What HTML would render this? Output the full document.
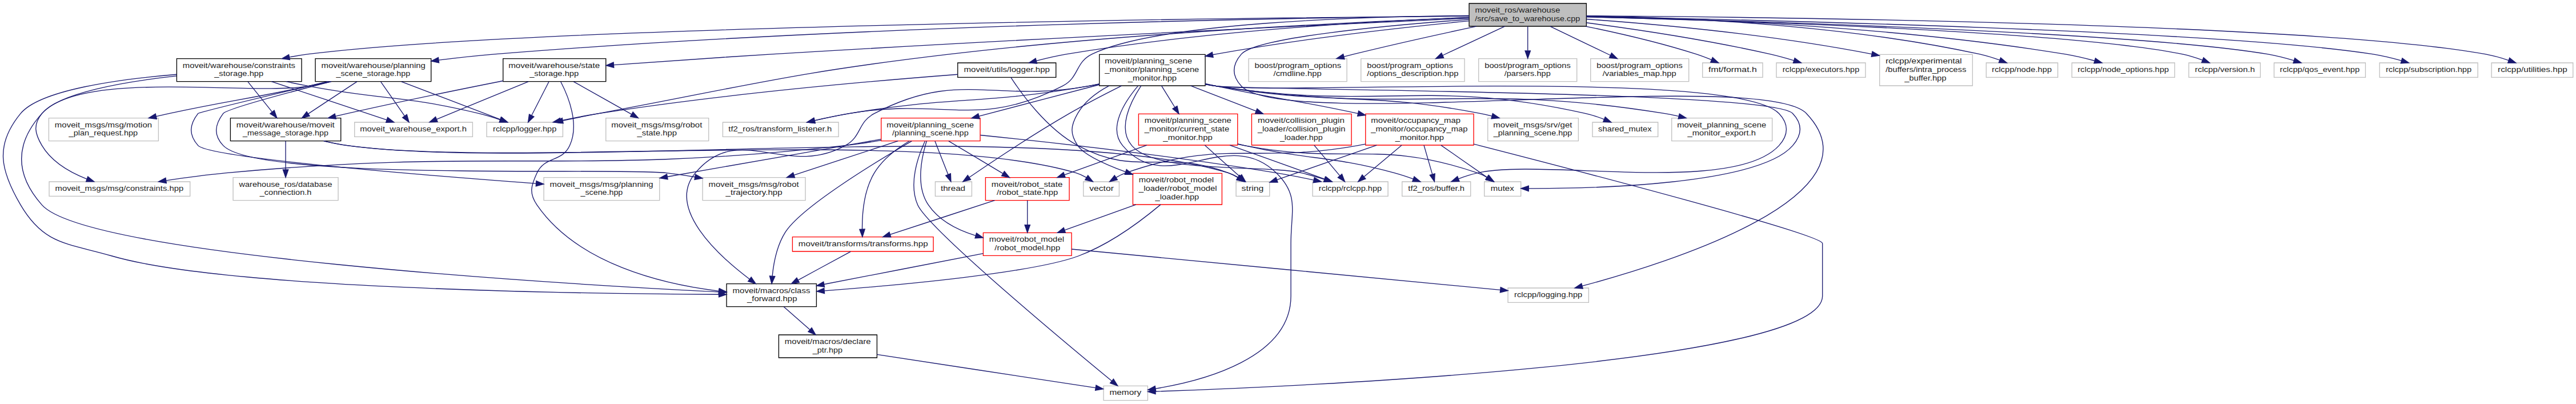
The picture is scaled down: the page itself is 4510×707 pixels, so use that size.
<!DOCTYPE html>
<html><head><meta charset="utf-8"><title>save_to_warehouse.cpp include graph</title><style>
html,body{margin:0;padding:0;background:#ffffff;overflow:hidden;}
svg{display:block;}
text{font-family:"Liberation Sans",sans-serif;font-size:9.675px;fill:#222222;}
</style></head><body>
<svg width="4510" height="707" viewBox="0 0 3382.5 530.25" preserveAspectRatio="none">
<rect x="0" y="0" width="3382.5" height="530.25" fill="#ffffff"/>
<g transform="translate(4 526)">
<polygon fill="#bfbfbf" stroke="black" points="1925.06,-491.5 1925.06,-521.5 2079.06,-521.5 2079.06,-491.5 1925.06,-491.5"/>
<text x="1932.91" y="-509.50" textLength="111.67" lengthAdjust="spacingAndGlyphs">moveit_ros/warehouse</text>
<text x="1932.61" y="-498.50" textLength="138.12" lengthAdjust="spacingAndGlyphs">/src/save_to_warehouse.cpp</text>
<polygon fill="white" stroke="black" points="410.06,-419 410.06,-449 562.06,-449 562.06,-419 410.06,-419"/>
<text x="417.91" y="-437.00" textLength="136.77" lengthAdjust="spacingAndGlyphs">moveit/warehouse/planning</text>
<text x="437.39" y="-426.00" textLength="97.29" lengthAdjust="spacingAndGlyphs">_scene_storage.hpp</text>
<path fill="none" stroke="#191970" d="M1924.77,-504.95C1717.51,-502.98 1132.19,-494.1 647.06,-455 622.74,-453.04 596.44,-450.12 572.29,-447.11"/>
<polygon fill="#191970" stroke="#191970" points="572.44,-443.6 562.08,-445.81 571.56,-450.54 572.44,-443.6"/>
<polygon fill="white" stroke="#bfbfbf" points="635.06,-346.5 635.06,-365.5 735.06,-365.5 735.06,-346.5 635.06,-346.5"/>
<text x="643.32" y="-353.50" textLength="83.41" lengthAdjust="spacingAndGlyphs">rclcpp/logger.hpp</text>
<path fill="none" stroke="#191970" d="M1924.89,-502.93C1787.58,-497.78 1491.95,-484.11 1244.06,-455 1037.24,-430.71 986.73,-415.37 782.06,-377 766.81,-374.14 750.27,-370.82 735.24,-367.71"/>
<polygon fill="#191970" stroke="#191970" points="735.61,-364.21 725.11,-365.6 734.18,-371.06 735.61,-364.21"/>
<polygon fill="white" stroke="#bfbfbf" points="945.06,-346.5 945.06,-365.5 1097.06,-365.5 1097.06,-346.5 945.06,-346.5"/>
<text x="952.43" y="-353.50" textLength="135.75" lengthAdjust="spacingAndGlyphs">tf2_ros/transform_listener.h</text>
<path fill="none" stroke="#191970" d="M1924.83,-505.47C1789.36,-504.3 1515.17,-496.67 1430.06,-455 1407.18,-443.8 1413.71,-424.65 1391.06,-413 1279.49,-355.6 1234.65,-398.63 1111.06,-377 1096.34,-374.42 1080.39,-371.07 1066.06,-367.84"/>
<polygon fill="#191970" stroke="#191970" points="1066.49,-364.35 1055.96,-365.53 1064.92,-371.17 1066.49,-364.35"/>
<polygon fill="white" stroke="black" points="228.06,-419 228.06,-449 392.06,-449 392.06,-419 228.06,-419"/>
<text x="235.91" y="-437.00" textLength="147.86" lengthAdjust="spacingAndGlyphs">moveit/warehouse/constraints</text>
<text x="277.38" y="-426.00" textLength="64.59" lengthAdjust="spacingAndGlyphs">_storage.hpp</text>
<path fill="none" stroke="#191970" d="M1924.68,-504.95C1646.98,-502.7 701.16,-492.39 401.06,-455 392.86,-453.98 384.32,-452.57 375.9,-450.97"/>
<polygon fill="#191970" stroke="#191970" points="376.58,-447.54 366.08,-449.01 375.21,-454.4 376.58,-447.54"/>
<polygon fill="white" stroke="black" points="656.56,-419 656.56,-449 791.56,-449 791.56,-419 656.56,-419"/>
<text x="663.66" y="-437.00" textLength="119.98" lengthAdjust="spacingAndGlyphs">moveit/warehouse/state</text>
<text x="691.38" y="-426.00" textLength="64.59" lengthAdjust="spacingAndGlyphs">_storage.hpp</text>
<path fill="none" stroke="#191970" d="M1925.01,-502.05C1758.41,-494.49 1352.2,-475.48 1012.06,-455 940.91,-450.72 859.93,-445.02 802,-440.8"/>
<polygon fill="#191970" stroke="#191970" points="802.05,-437.3 791.83,-440.06 801.54,-444.28 802.05,-437.3"/>
<polygon fill="white" stroke="black" points="1439.56,-413.5 1439.56,-454.5 1578.56,-454.5 1578.56,-413.5 1439.56,-413.5"/>
<text x="1446.66" y="-442.50" textLength="114.63" lengthAdjust="spacingAndGlyphs">moveit/planning_scene</text>
<text x="1446.66" y="-431.50" textLength="123.84" lengthAdjust="spacingAndGlyphs">_monitor/planning_scene</text>
<text x="1477.03" y="-420.50" textLength="64.02" lengthAdjust="spacingAndGlyphs">_monitor.hpp</text>
<path fill="none" stroke="#191970" d="M1924.78,-498.54C1842.26,-490.5 1707.83,-475.68 1593.06,-455 1591.58,-454.73 1590.09,-454.46 1588.59,-454.17"/>
<polygon fill="#191970" stroke="#191970" points="1589.09,-450.71 1578.6,-452.19 1587.73,-457.57 1589.09,-450.71"/>
<polygon fill="white" stroke="#bfbfbf" points="1976.06,-129 1976.06,-148 2082.06,-148 2082.06,-129 1976.06,-129"/>
<text x="1984.34" y="-136.00" textLength="89.37" lengthAdjust="spacingAndGlyphs">rclcpp/logging.hpp</text>
<path fill="none" stroke="#191970" d="M1924.86,-500.5C1820.58,-492.95 1645.41,-477.12 1626.06,-455 1613.77,-440.95 1613.18,-426.52 1626.06,-413 1682.99,-353.24 2311.12,-436.76 2368.06,-377 2470.42,-269.55 2187.02,-180.9 2073.63,-150.65"/>
<polygon fill="#191970" stroke="#191970" points="2074.41,-147.23 2063.84,-148.07 2072.62,-154 2074.41,-147.23"/>
<polygon fill="white" stroke="black" points="1253.56,-424.5 1253.56,-443.5 1382.56,-443.5 1382.56,-424.5 1253.56,-424.5"/>
<text x="1261.61" y="-431.50" textLength="112.87" lengthAdjust="spacingAndGlyphs">moveit/utils/logger.hpp</text>
<path fill="none" stroke="#191970" d="M1924.67,-503.12C1809.12,-498.64 1584.96,-486.41 1397.06,-455 1383.84,-452.79 1369.6,-449.48 1356.89,-446.18"/>
<polygon fill="#191970" stroke="#191970" points="1357.64,-442.76 1347.08,-443.57 1355.84,-449.53 1357.64,-442.76"/>
<polygon fill="white" stroke="#bfbfbf" points="1635.56,-419 1635.56,-449 1764.56,-449 1764.56,-419 1635.56,-419"/>
<text x="1643.41" y="-437.00" textLength="113.71" lengthAdjust="spacingAndGlyphs">boost/program_options</text>
<text x="1668.13" y="-426.00" textLength="63.12" lengthAdjust="spacingAndGlyphs">/cmdline.hpp</text>
<path fill="none" stroke="#191970" d="M1934.53,-491.39C1889.05,-481.69 1827.8,-468.21 1774.06,-455 1769.72,-453.94 1765.26,-452.81 1760.76,-451.65"/>
<polygon fill="#191970" stroke="#191970" points="1761.49,-448.22 1750.93,-449.08 1759.72,-454.99 1761.49,-448.22"/>
<polygon fill="white" stroke="#bfbfbf" points="1783.06,-419 1783.06,-449 1919.06,-449 1919.06,-419 1783.06,-419"/>
<text x="1790.91" y="-437.00" textLength="112.98" lengthAdjust="spacingAndGlyphs">boost/program_options</text>
<text x="1790.97" y="-426.00" textLength="120.14" lengthAdjust="spacingAndGlyphs">/options_description.hpp</text>
<path fill="none" stroke="#191970" d="M1971.86,-491.4C1948.51,-480.5 1915.98,-465.31 1890.56,-453.44"/>
<polygon fill="#191970" stroke="#191970" points="1891.74,-450.13 1881.2,-449.07 1888.78,-456.47 1891.74,-450.13"/>
<polygon fill="white" stroke="#bfbfbf" points="1937.56,-419 1937.56,-449 2066.56,-449 2066.56,-419 1937.56,-419"/>
<text x="1945.41" y="-437.00" textLength="112.98" lengthAdjust="spacingAndGlyphs">boost/program_options</text>
<text x="1971.28" y="-426.00" textLength="60.80" lengthAdjust="spacingAndGlyphs">/parsers.hpp</text>
<path fill="none" stroke="#191970" d="M2002.06,-491.23C2002.06,-482.16 2002.06,-470.16 2002.06,-459.58"/>
<polygon fill="#191970" stroke="#191970" points="2005.56,-459.25 2002.06,-449.25 1998.56,-459.25 2005.56,-459.25"/>
<polygon fill="white" stroke="#bfbfbf" points="2084.56,-419 2084.56,-449 2213.56,-449 2213.56,-419 2084.56,-419"/>
<text x="2092.41" y="-437.00" textLength="112.98" lengthAdjust="spacingAndGlyphs">boost/program_options</text>
<text x="2100.23" y="-426.00" textLength="96.87" lengthAdjust="spacingAndGlyphs">/variables_map.hpp</text>
<path fill="none" stroke="#191970" d="M2031.45,-491.4C2054.18,-480.5 2085.85,-465.31 2110.6,-453.44"/>
<polygon fill="#191970" stroke="#191970" points="2112.21,-456.55 2119.71,-449.07 2109.18,-450.24 2112.21,-456.55"/>
<polygon fill="white" stroke="#bfbfbf" points="2231.56,-424.5 2231.56,-443.5 2310.56,-443.5 2310.56,-424.5 2231.56,-424.5"/>
<text x="2239.25" y="-431.50" textLength="63.68" lengthAdjust="spacingAndGlyphs">fmt/format.h</text>
<path fill="none" stroke="#191970" d="M2078.1,-491.46C2121.12,-482.68 2175.64,-470.17 2223.06,-455 2229.76,-452.86 2236.83,-450.16 2243.42,-447.45"/>
<polygon fill="#191970" stroke="#191970" points="2244.8,-450.67 2252.64,-443.54 2242.07,-444.23 2244.8,-450.67"/>
<polygon fill="white" stroke="#bfbfbf" points="2328.56,-424.5 2328.56,-443.5 2445.56,-443.5 2445.56,-424.5 2328.56,-424.5"/>
<text x="2336.56" y="-431.50" textLength="100.94" lengthAdjust="spacingAndGlyphs">rclcpp/executors.hpp</text>
<path fill="none" stroke="#191970" d="M2079.06,-496.18C2143.81,-487.65 2238.57,-473.55 2320.06,-455 2330.35,-452.66 2341.39,-449.6 2351.47,-446.58"/>
<polygon fill="#191970" stroke="#191970" points="2352.64,-449.88 2361.18,-443.6 2350.59,-443.19 2352.64,-449.88"/>
<polygon fill="white" stroke="#bfbfbf" points="2464.06,-413.5 2464.06,-454.5 2586.06,-454.5 2586.06,-413.5 2464.06,-413.5"/>
<text x="2471.91" y="-442.50" textLength="100.20" lengthAdjust="spacingAndGlyphs">rclcpp/experimental</text>
<text x="2471.91" y="-431.50" textLength="106.00" lengthAdjust="spacingAndGlyphs">/buffers/intra_process</text>
<text x="2496.80" y="-420.50" textLength="55.00" lengthAdjust="spacingAndGlyphs">_buffer.hpp</text>
<path fill="none" stroke="#191970" d="M2079.2,-500.85C2167.71,-494.62 2317.22,-481.39 2453.92,-455.07"/>
<polygon fill="#191970" stroke="#191970" points="2454.59,-458.5 2463.74,-453.15 2453.25,-451.63 2454.59,-458.5"/>
<polygon fill="white" stroke="#bfbfbf" points="2604.06,-424.5 2604.06,-443.5 2698.06,-443.5 2698.06,-424.5 2604.06,-424.5"/>
<text x="2611.49" y="-431.50" textLength="78.58" lengthAdjust="spacingAndGlyphs">rclcpp/node.hpp</text>
<path fill="none" stroke="#191970" d="M2079.29,-505.24C2193.37,-503.44 2413.06,-494.55 2595.06,-455 2603.9,-453.08 2613.26,-450.13 2621.74,-447.07"/>
<polygon fill="#191970" stroke="#191970" points="2623.08,-450.31 2631.21,-443.5 2620.61,-443.76 2623.08,-450.31"/>
<polygon fill="white" stroke="#bfbfbf" points="2716.56,-424.5 2716.56,-443.5 2851.56,-443.5 2851.56,-424.5 2716.56,-424.5"/>
<text x="2724.10" y="-431.50" textLength="119.87" lengthAdjust="spacingAndGlyphs">rclcpp/node_options.hpp</text>
<path fill="none" stroke="#191970" d="M2079.27,-504.57C2209.54,-501.97 2480.93,-492.15 2707.06,-455 2719.94,-452.88 2733.81,-449.6 2746.18,-446.31"/>
<polygon fill="#191970" stroke="#191970" points="2747.45,-449.59 2756.16,-443.56 2745.59,-442.84 2747.45,-449.59"/>
<polygon fill="white" stroke="#bfbfbf" points="2870.06,-424.5 2870.06,-443.5 2964.06,-443.5 2964.06,-424.5 2870.06,-424.5"/>
<text x="2877.99" y="-431.50" textLength="78.92" lengthAdjust="spacingAndGlyphs">rclcpp/version.h</text>
<path fill="none" stroke="#191970" d="M2079.17,-503.77C2261.07,-499.23 2712.75,-485.2 2861.06,-455 2870,-453.18 2879.44,-450.23 2887.98,-447.15"/>
<polygon fill="#191970" stroke="#191970" points="2889.39,-450.36 2897.49,-443.53 2886.9,-443.82 2889.39,-450.36"/>
<polygon fill="white" stroke="#bfbfbf" points="2982.06,-424.5 2982.06,-443.5 3102.06,-443.5 3102.06,-424.5 2982.06,-424.5"/>
<text x="2989.72" y="-431.50" textLength="104.64" lengthAdjust="spacingAndGlyphs">rclcpp/qos_event.hpp</text>
<path fill="none" stroke="#191970" d="M2079.09,-503.78C2277.34,-498.99 2801.61,-483.91 2973.06,-455 2984.64,-453.05 2997.04,-449.82 3008.08,-446.53"/>
<polygon fill="#191970" stroke="#191970" points="3009.27,-449.83 3017.79,-443.52 3007.2,-443.14 3009.27,-449.83"/>
<polygon fill="white" stroke="#bfbfbf" points="3120.56,-424.5 3120.56,-443.5 3249.56,-443.5 3249.56,-424.5 3120.56,-424.5"/>
<text x="3128.68" y="-431.50" textLength="112.69" lengthAdjust="spacingAndGlyphs">rclcpp/subscription.hpp</text>
<path fill="none" stroke="#191970" d="M2079.18,-504.18C2296.61,-500.11 2911.7,-486.1 3111.06,-455 3123.69,-453.03 3137.27,-449.72 3149.3,-446.35"/>
<polygon fill="#191970" stroke="#191970" points="3150.36,-449.69 3158.99,-443.54 3148.41,-442.97 3150.36,-449.69"/>
<polygon fill="white" stroke="#bfbfbf" points="3267.56,-424.5 3267.56,-443.5 3374.56,-443.5 3374.56,-424.5 3267.56,-424.5"/>
<text x="3275.79" y="-431.50" textLength="91.32" lengthAdjust="spacingAndGlyphs">rclcpp/utilities.hpp</text>
<path fill="none" stroke="#191970" d="M2079.23,-505.14C2316.14,-503.6 3030.72,-495.63 3259.06,-455 3269.3,-453.18 3280.2,-450.08 3289.95,-446.86"/>
<polygon fill="#191970" stroke="#191970" points="3291.31,-450.09 3299.62,-443.51 3289.02,-443.48 3291.31,-450.09"/>
<polygon fill="white" stroke="black" points="298.56,-341 298.56,-371 443.56,-371 443.56,-341 298.56,-341"/>
<text x="306.41" y="-359.00" textLength="128.98" lengthAdjust="spacingAndGlyphs">moveit/warehouse/moveit</text>
<text x="314.79" y="-348.00" textLength="112.48" lengthAdjust="spacingAndGlyphs">_message_storage.hpp</text>
<path fill="none" stroke="#191970" d="M464.7,-418.88C446.7,-406.99 420.77,-389.85 400.75,-376.63"/>
<polygon fill="#191970" stroke="#191970" points="402.58,-373.63 392.3,-371.04 398.72,-379.47 402.58,-373.63"/>
<polygon fill="white" stroke="#bfbfbf" points="710.06,-263 710.06,-293 862.06,-293 862.06,-263 710.06,-263"/>
<text x="717.91" y="-281.00" textLength="135.85" lengthAdjust="spacingAndGlyphs">moveit_msgs/msg/planning</text>
<text x="758.35" y="-270.00" textLength="55.39" lengthAdjust="spacingAndGlyphs">_scene.hpp</text>
<path fill="none" stroke="#191970" d="M426.38,-418.94C358.68,-402.92 257.41,-378.72 256.06,-377 244.52,-362.32 243.57,-348.88 256.06,-335 270.69,-318.73 553.22,-295.92 699.64,-285.12"/>
<polygon fill="#191970" stroke="#191970" points="700.22,-288.59 709.94,-284.37 699.71,-281.61 700.22,-288.59"/>
<polygon fill="white" stroke="black" points="950.06,-123.5 950.06,-153.5 1068.06,-153.5 1068.06,-123.5 950.06,-123.5"/>
<text x="957.91" y="-141.50" textLength="101.96" lengthAdjust="spacingAndGlyphs">moveit/macros/class</text>
<text x="976.96" y="-130.50" textLength="65.69" lengthAdjust="spacingAndGlyphs">_forward.hpp</text>
<path fill="none" stroke="#191970" d="M430.94,-418.95C421.04,-416.73 410.77,-414.64 401.06,-413 323.95,-400.02 103.44,-435.05 51.06,-377 15.33,-337.41 15.71,-296.94 51.06,-257 109.95,-190.44 729.26,-153.5 939.6,-142.8"/>
<polygon fill="#191970" stroke="#191970" points="940.09,-146.28 949.9,-142.28 939.74,-139.29 940.09,-146.28"/>
<polygon fill="white" stroke="#bfbfbf" points="60.06,-341 60.06,-371 204.06,-371 204.06,-341 60.06,-341"/>
<text x="67.91" y="-359.00" textLength="127.67" lengthAdjust="spacingAndGlyphs">moveit_msgs/msg/motion</text>
<text x="86.41" y="-348.00" textLength="90.52" lengthAdjust="spacingAndGlyphs">_plan_request.hpp</text>
<path fill="none" stroke="#191970" d="M427.59,-418.95C418.71,-416.9 409.65,-414.86 401.06,-413 320.03,-395.5 299.1,-394.39 218.06,-377 212.62,-375.83 207,-374.6 201.36,-373.33"/>
<polygon fill="#191970" stroke="#191970" points="201.74,-369.83 191.21,-371.04 200.19,-376.66 201.74,-369.83"/>
<path fill="none" stroke="#191970" d="M523.02,-418.88C560.42,-404.6 617.64,-382.75 653.12,-369.2"/>
<polygon fill="#191970" stroke="#191970" points="654.43,-372.44 662.52,-365.61 651.93,-365.9 654.43,-372.44"/>
<polygon fill="white" stroke="#bfbfbf" points="918.56,-263 918.56,-293 1053.56,-293 1053.56,-263 918.56,-263"/>
<text x="926.41" y="-281.00" textLength="118.52" lengthAdjust="spacingAndGlyphs">moveit_msgs/msg/robot</text>
<text x="948.88" y="-270.00" textLength="74.38" lengthAdjust="spacingAndGlyphs">_trajectory.hpp</text>
<path fill="none" stroke="#191970" d="M430.49,-418.95C373.79,-404.36 293.47,-382.84 289.06,-377 277.81,-362.11 276.27,-348.6 289.06,-335 333.43,-287.79 806.71,-306.56 871.06,-299 883.21,-297.57 896.02,-295.71 908.51,-293.69"/>
<polygon fill="#191970" stroke="#191970" points="909.14,-297.13 918.44,-292.04 908,-290.22 909.14,-297.13"/>
<polygon fill="white" stroke="#bfbfbf" points="461.56,-346.5 461.56,-365.5 616.56,-365.5 616.56,-346.5 461.56,-346.5"/>
<text x="468.67" y="-353.50" textLength="140.07" lengthAdjust="spacingAndGlyphs">moveit_warehouse_export.h</text>
<path fill="none" stroke="#191970" d="M496.03,-418.7C504.89,-405.99 517.87,-387.37 527.26,-373.92"/>
<polygon fill="#191970" stroke="#191970" points="530.24,-375.77 533.08,-365.56 524.49,-371.76 530.24,-375.77"/>
<polygon fill="white" stroke="#bfbfbf" points="302.06,-263 302.06,-293 440.06,-293 440.06,-263 302.06,-263"/>
<text x="309.91" y="-281.00" textLength="122.34" lengthAdjust="spacingAndGlyphs">warehouse_ros/database</text>
<text x="336.99" y="-270.00" textLength="68.11" lengthAdjust="spacingAndGlyphs">_connection.h</text>
<path fill="none" stroke="#191970" d="M371.06,-340.7C371.06,-330.2 371.06,-315.66 371.06,-303.33"/>
<polygon fill="#191970" stroke="#191970" points="374.56,-303.23 371.06,-293.23 367.56,-303.23 374.56,-303.23"/>
<polygon fill="white" stroke="#bfbfbf" points="1418.56,-268.5 1418.56,-287.5 1465.56,-287.5 1465.56,-268.5 1418.56,-268.5"/>
<text x="1426.45" y="-275.50" textLength="31.97" lengthAdjust="spacingAndGlyphs">vector</text>
<path fill="none" stroke="#191970" d="M421.3,-340.91C431.41,-338.55 442.02,-336.41 452.06,-335 662.8,-305.34 1205.2,-360.11 1409.06,-299 1413.66,-297.62 1418.27,-295.45 1422.52,-293.03"/>
<polygon fill="#191970" stroke="#191970" points="1424.56,-295.88 1431.13,-287.57 1420.81,-289.97 1424.56,-295.88"/>
<polygon fill="white" stroke="#bfbfbf" points="1619.06,-268.5 1619.06,-287.5 1663.06,-287.5 1663.06,-268.5 1619.06,-268.5"/>
<text x="1626.17" y="-275.50" textLength="29.11" lengthAdjust="spacingAndGlyphs">string</text>
<path fill="none" stroke="#191970" d="M420.86,-340.96C431.1,-338.56 441.87,-336.4 452.06,-335 706.9,-299.97 1362.92,-373.75 1609.06,-299 1613.43,-297.67 1617.79,-295.58 1621.83,-293.25"/>
<polygon fill="#191970" stroke="#191970" points="1624.04,-295.98 1630.51,-287.59 1620.22,-290.12 1624.04,-295.98"/>
<polygon fill="white" stroke="black" points="1018.56,-56.5 1018.56,-86.5 1147.56,-86.5 1147.56,-56.5 1018.56,-56.5"/>
<text x="1026.41" y="-74.50" textLength="113.03" lengthAdjust="spacingAndGlyphs">moveit/macros/declare</text>
<text x="1063.09" y="-63.50" textLength="39.14" lengthAdjust="spacingAndGlyphs">_ptr.hpp</text>
<path fill="none" stroke="#191970" d="M1025.11,-123.4C1035.1,-114.62 1048.13,-103.18 1059.3,-93.37"/>
<polygon fill="#191970" stroke="#191970" points="1061.83,-95.81 1067.03,-86.58 1057.21,-90.55 1061.83,-95.81"/>
<polygon fill="white" stroke="#bfbfbf" points="1445.06,-0.5 1445.06,-19.5 1503.06,-19.5 1503.06,-0.5 1445.06,-0.5"/>
<text x="1452.80" y="-7.50" textLength="41.80" lengthAdjust="spacingAndGlyphs">memory</text>
<path fill="none" stroke="#191970" d="M1147.62,-60.67C1229.15,-48.27 1366.92,-27.3 1434.4,-17.03"/>
<polygon fill="#191970" stroke="#191970" points="1435.25,-20.45 1444.61,-15.48 1434.19,-13.53 1435.25,-20.45"/>
<path fill="none" stroke="#191970" d="M321.53,-418.7C330.48,-407.56 343.06,-391.88 353.3,-379.12"/>
<polygon fill="#191970" stroke="#191970" points="356.1,-381.22 359.63,-371.23 350.65,-376.84 356.1,-381.22"/>
<path fill="none" stroke="#191970" d="M228.01,-428.33C152.56,-422.12 48.64,-408.05 23.06,-377 -10.85,-335.83 -3.94,-303 23.06,-257 53.98,-204.32 84.42,-207.1 143.06,-190 291.98,-146.58 761.99,-140.34 939.9,-139.56"/>
<polygon fill="#191970" stroke="#191970" points="939.94,-143.06 949.93,-139.52 939.91,-136.06 939.94,-143.06"/>
<path fill="none" stroke="#191970" d="M371.64,-418.97C381.46,-416.87 391.52,-414.81 401.06,-413 500.12,-394.17 527.13,-401.02 625.06,-377 634.12,-374.78 643.78,-371.82 652.64,-368.87"/>
<polygon fill="#191970" stroke="#191970" points="653.91,-372.14 662.23,-365.58 651.64,-365.52 653.91,-372.14"/>
<path fill="none" stroke="#191970" d="M352.33,-418.97C395.9,-404.51 463.07,-382.22 503.86,-368.68"/>
<polygon fill="#191970" stroke="#191970" points="504.99,-371.99 513.38,-365.52 502.79,-365.35 504.99,-371.99"/>
<polygon fill="white" stroke="#bfbfbf" points="60.56,-268.5 60.56,-287.5 245.56,-287.5 245.56,-268.5 60.56,-268.5"/>
<text x="68.38" y="-275.50" textLength="168.59" lengthAdjust="spacingAndGlyphs">moveit_msgs/msg/constraints.hpp</text>
<path fill="none" stroke="#191970" d="M227.75,-426.29C160.49,-418.9 73.05,-404.25 51.06,-377 39.33,-362.47 41.55,-351.06 51.06,-335 63.87,-313.34 88.37,-299.5 110.14,-291"/>
<polygon fill="#191970" stroke="#191970" points="111.38,-294.27 119.58,-287.57 108.99,-287.7 111.38,-294.27"/>
<path fill="none" stroke="#191970" d="M656.55,-419.86C601.42,-408.95 521.53,-392.72 452.06,-377 447.06,-375.87 441.9,-374.67 436.72,-373.44"/>
<polygon fill="#191970" stroke="#191970" points="437.3,-369.98 426.76,-371.06 435.67,-376.79 437.3,-369.98"/>
<path fill="none" stroke="#191970" d="M732.31,-418.72C742.52,-399.04 757.06,-362.85 744.06,-335 733.51,-312.42 711.6,-321.58 701.06,-299 693.16,-282.09 690.48,-272.38 701.06,-257 754.5,-179.32 866.72,-152.96 939.93,-144.03"/>
<polygon fill="#191970" stroke="#191970" points="940.45,-147.5 949.99,-142.89 939.66,-140.54 940.45,-147.5"/>
<path fill="none" stroke="#191970" d="M716.72,-418.7C710.32,-406.23 701.01,-388.09 694.14,-374.7"/>
<polygon fill="#191970" stroke="#191970" points="697.13,-372.86 689.45,-365.56 690.9,-376.06 697.13,-372.86"/>
<path fill="none" stroke="#191970" d="M689.69,-418.88C655.22,-404.72 602.64,-383.12 569.59,-369.54"/>
<polygon fill="#191970" stroke="#191970" points="570.59,-366.17 560.01,-365.61 567.93,-372.64 570.59,-366.17"/>
<polygon fill="white" stroke="#bfbfbf" points="791.56,-341 791.56,-371 926.56,-371 926.56,-341 791.56,-341"/>
<text x="798.66" y="-359.00" textLength="119.36" lengthAdjust="spacingAndGlyphs">moveit_msgs/msg/robot</text>
<text x="832.55" y="-348.00" textLength="52.25" lengthAdjust="spacingAndGlyphs">_state.hpp</text>
<path fill="none" stroke="#191970" d="M749.13,-418.88C770.54,-406.83 801.52,-389.39 825.14,-376.1"/>
<polygon fill="#191970" stroke="#191970" points="827.12,-379 834.11,-371.04 823.68,-372.9 827.12,-379"/>
<path fill="none" stroke="#191970" d="M1439.5,-415.84C1434.63,-414.82 1429.78,-413.86 1425.06,-413 1301.19,-390.39 1255.66,-435.3 1144.06,-377 1121.74,-365.34 1128.05,-347.25 1106.06,-335 1028.29,-291.7 966.06,-367.36 909.06,-299 870.68,-252.97 938.58,-191.05 980.21,-159.62"/>
<polygon fill="#191970" stroke="#191970" points="982.43,-162.33 988.39,-153.57 978.27,-156.7 982.43,-162.33"/>
<path fill="none" stroke="#191970" d="M1490.42,-413.43C1472.47,-392.18 1450.66,-358.16 1470.06,-335 1528.61,-265.09 1606.73,-362.63 1672.06,-299 1702.12,-269.71 1691.06,-248.47 1691.06,-206.5 1691.06,-206.5 1691.06,-206.5 1691.06,-137.5 1691.06,-56.12 1575.75,-26.17 1513.24,-15.91"/>
<polygon fill="#191970" stroke="#191970" points="1513.74,-12.44 1503.32,-14.37 1512.67,-19.36 1513.74,-12.44"/>
<path fill="none" stroke="#191970" d="M1439.52,-415.77C1434.64,-414.77 1429.78,-413.83 1425.06,-413 1286.71,-388.69 1249.59,-400.27 1111.06,-377 1096.19,-374.5 1080.09,-371.14 1065.67,-367.88"/>
<polygon fill="#191970" stroke="#191970" points="1066.04,-364.37 1055.51,-365.54 1064.47,-371.2 1066.04,-364.37"/>
<polygon fill="white" stroke="#bfbfbf" points="1719.56,-268.5 1719.56,-287.5 1818.56,-287.5 1818.56,-268.5 1719.56,-268.5"/>
<text x="1727.61" y="-275.50" textLength="82.84" lengthAdjust="spacingAndGlyphs">rclcpp/rclcpp.hpp</text>
<path fill="none" stroke="#191970" d="M1494.35,-413.45C1480.05,-391.89 1463.06,-357.3 1482.06,-335 1514.6,-296.78 1656.2,-310.52 1705.06,-299 1714.9,-296.68 1725.42,-293.63 1735.04,-290.62"/>
<polygon fill="#191970" stroke="#191970" points="1736.22,-293.92 1744.67,-287.52 1734.07,-287.25 1736.22,-293.92"/>
<polygon fill="white" stroke="#bfbfbf" points="1837.06,-268.5 1837.06,-287.5 1927.06,-287.5 1927.06,-268.5 1837.06,-268.5"/>
<text x="1844.95" y="-275.50" textLength="74.17" lengthAdjust="spacingAndGlyphs">tf2_ros/buffer.h</text>
<path fill="none" stroke="#191970" d="M1579,-415.32C1583.74,-414.44 1588.46,-413.65 1593.06,-413 1674.45,-401.43 2275.36,-436.53 2332.06,-377 2344.93,-363.48 2344.64,-348.78 2332.06,-335 2272.47,-269.75 2022.24,-318.51 1936.06,-299 1927.83,-297.14 1919.16,-294.33 1911.23,-291.4"/>
<polygon fill="#191970" stroke="#191970" points="1912.27,-288.05 1901.68,-287.69 1909.73,-294.58 1912.27,-288.05"/>
<polygon fill="white" stroke="red" points="1153.06,-341 1153.06,-371 1283.06,-371 1283.06,-341 1153.06,-341"/>
<text x="1160.16" y="-359.00" textLength="114.63" lengthAdjust="spacingAndGlyphs">moveit/planning_scene</text>
<text x="1167.56" y="-348.00" textLength="100.23" lengthAdjust="spacingAndGlyphs">/planning_scene.hpp</text>
<path fill="none" stroke="#191970" d="M1439.35,-414.8C1391.32,-402.25 1327.99,-385.71 1281.39,-373.54"/>
<polygon fill="#191970" stroke="#191970" points="1282.27,-370.15 1271.71,-371.01 1280.5,-376.93 1282.27,-370.15"/>
<polygon fill="white" stroke="#bfbfbf" points="1224.06,-268.5 1224.06,-287.5 1272.06,-287.5 1272.06,-268.5 1224.06,-268.5"/>
<text x="1231.18" y="-275.50" textLength="32.40" lengthAdjust="spacingAndGlyphs">thread</text>
<path fill="none" stroke="#191970" d="M1468.69,-413.44C1447.92,-403.09 1422.35,-389.87 1400.06,-377 1351.97,-349.23 1297.78,-313.06 1268.87,-293.35"/>
<polygon fill="#191970" stroke="#191970" points="1270.64,-290.32 1260.41,-287.56 1266.68,-296.09 1270.64,-290.32"/>
<polygon fill="white" stroke="red" points="1483.56,-257.5 1483.56,-298.5 1600.56,-298.5 1600.56,-257.5 1483.56,-257.5"/>
<text x="1491.41" y="-286.50" textLength="98.37" lengthAdjust="spacingAndGlyphs">moveit/robot_model</text>
<text x="1491.41" y="-275.50" textLength="102.57" lengthAdjust="spacingAndGlyphs">_loader/robot_model</text>
<text x="1512.92" y="-264.50" textLength="57.50" lengthAdjust="spacingAndGlyphs">_loader.hpp</text>
<path fill="none" stroke="#191970" d="M1452.36,-413.38C1436.14,-404.84 1420.35,-393.02 1411.06,-377 1401.69,-360.86 1400.77,-350.58 1411.06,-335 1418.89,-323.14 1446.1,-310.64 1473.7,-300.46"/>
<polygon fill="#191970" stroke="#191970" points="1475.22,-303.64 1483.45,-296.97 1472.86,-297.05 1475.22,-303.64"/>
<polygon fill="white" stroke="red" points="1789.06,-335.5 1789.06,-376.5 1931.06,-376.5 1931.06,-335.5 1789.06,-335.5"/>
<text x="1796.16" y="-364.50" textLength="117.71" lengthAdjust="spacingAndGlyphs">moveit/occupancy_map</text>
<text x="1796.16" y="-353.50" textLength="126.91" lengthAdjust="spacingAndGlyphs">_monitor/occupancy_map</text>
<text x="1828.03" y="-342.50" textLength="64.02" lengthAdjust="spacingAndGlyphs">_monitor.hpp</text>
<path fill="none" stroke="#191970" d="M1578.68,-416.18C1583.54,-415.08 1588.37,-414.01 1593.06,-413 1675.36,-395.24 1696.82,-395.1 1779.06,-377 1779.16,-376.98 1779.26,-376.96 1779.36,-376.93"/>
<polygon fill="#191970" stroke="#191970" points="1780,-380.38 1788.99,-374.77 1778.46,-373.55 1780,-380.38"/>
<polygon fill="white" stroke="#bfbfbf" points="1945.06,-268.5 1945.06,-287.5 1993.06,-287.5 1993.06,-268.5 1945.06,-268.5"/>
<text x="1953.37" y="-275.50" textLength="30.62" lengthAdjust="spacingAndGlyphs">mutex</text>
<path fill="none" stroke="#191970" d="M1579,-415.32C1583.74,-414.44 1588.45,-413.65 1593.06,-413 1634.74,-407.1 2321,-407.47 2350.06,-377 2362.94,-363.49 2362.26,-349.13 2350.06,-335 2305.32,-283.2 2088.44,-278.44 2003.38,-278.61"/>
<polygon fill="#191970" stroke="#191970" points="2003.2,-275.11 1993.21,-278.65 2003.23,-282.11 2003.2,-275.11"/>
<polygon fill="white" stroke="red" points="1491.06,-335.5 1491.06,-376.5 1621.06,-376.5 1621.06,-335.5 1491.06,-335.5"/>
<text x="1498.91" y="-364.50" textLength="113.83" lengthAdjust="spacingAndGlyphs">moveit/planning_scene</text>
<text x="1498.91" y="-353.50" textLength="111.27" lengthAdjust="spacingAndGlyphs">_monitor/current_state</text>
<text x="1523.28" y="-342.50" textLength="64.82" lengthAdjust="spacingAndGlyphs">_monitor.hpp</text>
<path fill="none" stroke="#191970" d="M1521.16,-413.43C1526.48,-404.83 1532.82,-394.57 1538.64,-385.17"/>
<polygon fill="#191970" stroke="#191970" points="1541.71,-386.85 1543.99,-376.51 1535.76,-383.17 1541.71,-386.85"/>
<polygon fill="white" stroke="red" points="1639.56,-335.5 1639.56,-376.5 1770.56,-376.5 1770.56,-335.5 1639.56,-335.5"/>
<text x="1647.41" y="-364.50" textLength="114.01" lengthAdjust="spacingAndGlyphs">moveit/collision_plugin</text>
<text x="1647.41" y="-353.50" textLength="115.15" lengthAdjust="spacingAndGlyphs">_loader/collision_plugin</text>
<text x="1676.67" y="-342.50" textLength="56.05" lengthAdjust="spacingAndGlyphs">_loader.hpp</text>
<path fill="none" stroke="#191970" d="M1559.53,-413.43C1585.71,-403.28 1617.85,-390.81 1645.27,-380.18"/>
<polygon fill="#191970" stroke="#191970" points="1646.69,-383.38 1654.75,-376.51 1644.16,-376.86 1646.69,-383.38"/>
<polygon fill="white" stroke="#bfbfbf" points="1949.56,-341 1949.56,-371 2068.56,-371 2068.56,-341 1949.56,-341"/>
<text x="1956.66" y="-359.00" textLength="103.71" lengthAdjust="spacingAndGlyphs">moveit_msgs/srv/get</text>
<text x="1957.01" y="-348.00" textLength="103.31" lengthAdjust="spacingAndGlyphs">_planning_scene.hpp</text>
<path fill="none" stroke="#191970" d="M1578.58,-415.71C1583.47,-414.72 1588.33,-413.8 1593.06,-413 1745.91,-386.99 1787.88,-406.7 1940.06,-377 1944.98,-376.04 1950.06,-374.89 1955.12,-373.63"/>
<polygon fill="#191970" stroke="#191970" points="1956.01,-377.01 1964.8,-371.09 1954.24,-370.24 1956.01,-377.01"/>
<polygon fill="white" stroke="#bfbfbf" points="2087.06,-346.5 2087.06,-365.5 2173.06,-365.5 2173.06,-346.5 2087.06,-346.5"/>
<text x="2094.58" y="-353.50" textLength="70.19" lengthAdjust="spacingAndGlyphs">shared_mutex</text>
<path fill="none" stroke="#191970" d="M1578.56,-415.55C1583.45,-414.6 1588.32,-413.74 1593.06,-413 1806.65,-379.86 1867.15,-424.3 2078.06,-377 2086.15,-375.18 2094.66,-372.34 2102.4,-369.36"/>
<polygon fill="#191970" stroke="#191970" points="2103.75,-372.59 2111.69,-365.58 2101.11,-366.1 2103.75,-372.59"/>
<polygon fill="white" stroke="#bfbfbf" points="2191.06,-341 2191.06,-371 2323.06,-371 2323.06,-341 2191.06,-341"/>
<text x="2198.16" y="-359.00" textLength="116.98" lengthAdjust="spacingAndGlyphs">moveit_planning_scene</text>
<text x="2211.80" y="-348.00" textLength="89.74" lengthAdjust="spacingAndGlyphs">_monitor_export.h</text>
<path fill="none" stroke="#191970" d="M1579.01,-415.39C1583.74,-414.49 1588.46,-413.68 1593.06,-413 1852.48,-374.48 1923.17,-419 2182.06,-377 2187.94,-376.05 2194.02,-374.83 2200.07,-373.46"/>
<polygon fill="#191970" stroke="#191970" points="2201.25,-376.77 2210.16,-371.04 2199.62,-369.97 2201.25,-376.77"/>
<path fill="none" stroke="#191970" d="M1152.92,-343.33C1137.55,-340.59 1121.23,-337.68 1106.06,-335 1026.98,-321.02 936.88,-305.27 872.47,-294.04"/>
<polygon fill="#191970" stroke="#191970" points="872.82,-290.55 862.36,-292.28 871.61,-297.44 872.82,-290.55"/>
<path fill="none" stroke="#191970" d="M1193.2,-340.87C1146.39,-313.74 1047.97,-254.14 1027.06,-221 1016.21,-203.81 1011.85,-180.99 1010.12,-163.87"/>
<polygon fill="#191970" stroke="#191970" points="1013.58,-163.26 1009.32,-153.56 1006.6,-163.8 1013.58,-163.26"/>
<path fill="none" stroke="#191970" d="M1210.65,-340.74C1201.51,-321.08 1188.63,-284.92 1201.06,-257 1214.96,-225.75 1397.15,-74.23 1455.92,-25.87"/>
<polygon fill="#191970" stroke="#191970" points="1458.15,-28.56 1463.66,-19.51 1453.71,-23.15 1458.15,-28.56"/>
<path fill="none" stroke="#191970" d="M1175.23,-340.97C1136.69,-328.35 1079.92,-309.75 1038.64,-296.22"/>
<polygon fill="#191970" stroke="#191970" points="1039.61,-292.86 1029.02,-293.07 1037.44,-299.51 1039.61,-292.86"/>
<path fill="none" stroke="#191970" d="M1152.83,-341.85C1137.54,-339.19 1121.27,-336.69 1106.06,-335 746.57,-295.12 653.18,-332.62 293.06,-299 267.17,-296.58 238.75,-292.75 214.32,-289.07"/>
<polygon fill="#191970" stroke="#191970" points="214.53,-285.57 204.12,-287.52 213.47,-292.49 214.53,-285.57"/>
<path fill="none" stroke="#191970" d="M1283.32,-348.62C1371.73,-339.6 1534.33,-321.65 1672.06,-299 1688.06,-296.37 1705.44,-292.96 1721.01,-289.7"/>
<polygon fill="#191970" stroke="#191970" points="1721.89,-293.1 1730.95,-287.6 1720.44,-286.25 1721.89,-293.1"/>
<polygon fill="white" stroke="red" points="1287.06,-190.5 1287.06,-220.5 1403.06,-220.5 1403.06,-190.5 1287.06,-190.5"/>
<text x="1294.91" y="-208.50" textLength="98.37" lengthAdjust="spacingAndGlyphs">moveit/robot_model</text>
<text x="1301.97" y="-197.50" textLength="86.15" lengthAdjust="spacingAndGlyphs">/robot_model.hpp</text>
<path fill="none" stroke="#191970" d="M1212.84,-340.9C1206.27,-320.46 1197.75,-282.29 1215.06,-257 1229.3,-236.19 1253.47,-223.95 1277.13,-216.76"/>
<polygon fill="#191970" stroke="#191970" points="1278.16,-220.11 1286.86,-214.06 1276.29,-213.36 1278.16,-220.11"/>
<polygon fill="white" stroke="red" points="1290.06,-263 1290.06,-293 1400.06,-293 1400.06,-263 1290.06,-263"/>
<text x="1297.91" y="-281.00" textLength="93.36" lengthAdjust="spacingAndGlyphs">moveit/robot_state</text>
<text x="1304.80" y="-270.00" textLength="80.50" lengthAdjust="spacingAndGlyphs">/robot_state.hpp</text>
<path fill="none" stroke="#191970" d="M1241.65,-340.88C1261.7,-328.89 1290.67,-311.55 1312.85,-298.27"/>
<polygon fill="#191970" stroke="#191970" points="1314.81,-301.18 1321.59,-293.04 1311.21,-295.17 1314.81,-301.18"/>
<polygon fill="white" stroke="red" points="1036.56,-196 1036.56,-215 1221.56,-215 1221.56,-196 1036.56,-196"/>
<text x="1044.33" y="-203.00" textLength="170.23" lengthAdjust="spacingAndGlyphs">moveit/transforms/transforms.hpp</text>
<path fill="none" stroke="#191970" d="M1190.14,-340.92C1174.06,-331.32 1154.94,-317.08 1144.06,-299 1130.38,-276.28 1128.04,-244.99 1128.14,-225.26"/>
<polygon fill="#191970" stroke="#191970" points="1131.64,-225.22 1128.42,-215.12 1124.65,-225.02 1131.64,-225.22"/>
<path fill="none" stroke="#191970" d="M1223.7,-340.7C1228.57,-328.35 1235.64,-310.44 1240.91,-297.1"/>
<polygon fill="#191970" stroke="#191970" points="1244.26,-298.15 1244.68,-287.56 1237.75,-295.58 1244.26,-298.15"/>
<path fill="none" stroke="#191970" d="M1286.91,-193.25C1228.91,-182.03 1139.8,-164.79 1078.2,-152.88"/>
<polygon fill="#191970" stroke="#191970" points="1078.66,-149.4 1068.18,-150.94 1077.33,-156.27 1078.66,-149.4"/>
<path fill="none" stroke="#191970" d="M1403.08,-198.99C1530.43,-186.88 1833.59,-158.07 1965.7,-145.52"/>
<polygon fill="#191970" stroke="#191970" points="1966.43,-148.97 1976.05,-144.54 1965.76,-142 1966.43,-148.97"/>
<path fill="none" stroke="#191970" d="M1345.06,-262.73C1345.06,-253.66 1345.06,-241.66 1345.06,-231.08"/>
<polygon fill="#191970" stroke="#191970" points="1348.56,-230.75 1345.06,-220.75 1341.56,-230.75 1348.56,-230.75"/>
<path fill="none" stroke="#191970" d="M1302.12,-262.99C1261.92,-249.86 1202.53,-230.48 1164.83,-218.17"/>
<polygon fill="#191970" stroke="#191970" points="1165.86,-214.83 1155.27,-215.05 1163.69,-221.49 1165.86,-214.83"/>
<path fill="none" stroke="#191970" d="M1112.87,-195.73C1095.33,-186.23 1066.8,-170.78 1044.08,-158.47"/>
<polygon fill="#191970" stroke="#191970" points="1045.53,-155.27 1035.07,-153.59 1042.19,-161.43 1045.53,-155.27"/>
<path fill="none" stroke="#191970" d="M1519.92,-257.4C1495.4,-236.9 1453.78,-205.57 1412.06,-190 1352.56,-167.79 1177.27,-151.84 1078.6,-144.33"/>
<polygon fill="#191970" stroke="#191970" points="1078.65,-140.82 1068.42,-143.56 1078.13,-147.8 1078.65,-140.82"/>
<path fill="none" stroke="#191970" d="M1487.44,-257.46C1458.21,-246.99 1422.49,-234.21 1394.14,-224.07"/>
<polygon fill="#191970" stroke="#191970" points="1395.04,-220.67 1384.45,-220.6 1392.68,-227.26 1395.04,-220.67"/>
<path fill="none" stroke="#191970" d="M1789.05,-336.94C1785.68,-336.25 1782.33,-335.6 1779.06,-335 1644.76,-310.59 1602.83,-344.27 1474.06,-299 1469.81,-297.51 1465.55,-295.38 1461.57,-293.06"/>
<polygon fill="#191970" stroke="#191970" points="1463.28,-290 1452.98,-287.52 1459.49,-295.88 1463.28,-290"/>
<path fill="none" stroke="#191970" d="M1803.66,-335.43C1762.02,-320.98 1706.86,-301.84 1672.68,-289.97"/>
<polygon fill="#191970" stroke="#191970" points="1673.8,-286.66 1663.2,-286.69 1671.5,-293.27 1673.8,-286.66"/>
<path fill="none" stroke="#191970" d="M1931.12,-336.91C2075.4,-299.96 2389.06,-218.25 2389.06,-206.5 2389.06,-206.5 2389.06,-206.5 2389.06,-137.5 2389.06,-47.68 1688.21,-18.18 1513.26,-12.22"/>
<polygon fill="#191970" stroke="#191970" points="1513.32,-8.72 1503.21,-11.89 1513.08,-15.72 1513.32,-8.72"/>
<path fill="none" stroke="#191970" d="M1836.62,-335.43C1821.27,-322.61 1801.5,-306.09 1787.32,-294.25"/>
<polygon fill="#191970" stroke="#191970" points="1789.22,-291.28 1779.3,-287.55 1784.73,-296.65 1789.22,-291.28"/>
<path fill="none" stroke="#191970" d="M1865.72,-335.43C1869.12,-323.7 1873.41,-308.87 1876.74,-297.36"/>
<polygon fill="#191970" stroke="#191970" points="1880.16,-298.13 1879.58,-287.55 1873.44,-296.18 1880.16,-298.13"/>
<path fill="none" stroke="#191970" d="M1888.13,-335.43C1906.86,-322.37 1931.09,-305.47 1948.14,-293.58"/>
<polygon fill="#191970" stroke="#191970" points="1950.59,-296.14 1956.79,-287.55 1946.59,-290.4 1950.59,-296.14"/>
<path fill="none" stroke="#191970" d="M1577.95,-335.43C1592.28,-322.61 1610.75,-306.09 1624,-294.25"/>
<polygon fill="#191970" stroke="#191970" points="1626.37,-296.83 1631.49,-287.55 1621.7,-291.61 1626.37,-296.83"/>
<path fill="none" stroke="#191970" d="M1610.91,-335.43C1650.23,-321.4 1701.94,-302.95 1735.34,-291.03"/>
<polygon fill="#191970" stroke="#191970" points="1736.85,-294.21 1745.09,-287.55 1734.49,-287.62 1736.85,-294.21"/>
<path fill="none" stroke="#191970" d="M1621.35,-337.04C1624.29,-336.33 1627.2,-335.65 1630.06,-335 1716.87,-315.37 1741.15,-322.29 1827.06,-299 1835.12,-296.81 1843.69,-293.97 1851.59,-291.11"/>
<polygon fill="#191970" stroke="#191970" points="1853.02,-294.31 1861.17,-287.53 1850.58,-287.75 1853.02,-294.31"/>
<path fill="none" stroke="#191970" d="M1501.72,-335.43C1468.41,-323.43 1426.13,-308.2 1393.88,-296.59"/>
<polygon fill="#191970" stroke="#191970" points="1394.81,-293.2 1384.22,-293.11 1392.44,-299.79 1394.81,-293.2"/>
<path fill="none" stroke="#191970" d="M1621.3,-336.81C1624.25,-336.16 1627.18,-335.55 1630.06,-335 1764.52,-309.07 1806.55,-343.5 1936.06,-299 1940.52,-297.46 1945.04,-295.26 1949.23,-292.86"/>
<polygon fill="#191970" stroke="#191970" points="1951.14,-295.8 1957.75,-287.52 1947.42,-289.87 1951.14,-295.8"/>
<path fill="none" stroke="#191970" d="M1721.54,-335.43C1732.03,-322.97 1745.46,-307.03 1755.36,-295.27"/>
<polygon fill="#191970" stroke="#191970" points="1758.09,-297.46 1761.85,-287.55 1752.74,-292.95 1758.09,-297.46"/>
<path fill="none" stroke="#191970" d="M1323.35,-424.48C1335.91,-405.05 1369.59,-357.43 1411.06,-335 1489.73,-292.46 1525.64,-331.28 1609.06,-299 1613.18,-297.4 1617.35,-295.26 1621.27,-292.97"/>
<polygon fill="#191970" stroke="#191970" points="1623.22,-295.87 1629.77,-287.53 1619.45,-289.97 1623.22,-295.87"/>
<path fill="none" stroke="#191970" d="M1253.43,-428.33C1152.45,-420.57 951.26,-403.22 782.06,-377 765.75,-374.47 748.03,-371.03 732.26,-367.71"/>
<polygon fill="#191970" stroke="#191970" points="732.72,-364.23 722.21,-365.56 731.26,-371.08 732.72,-364.23"/>
</g>
</svg>
</body></html>
